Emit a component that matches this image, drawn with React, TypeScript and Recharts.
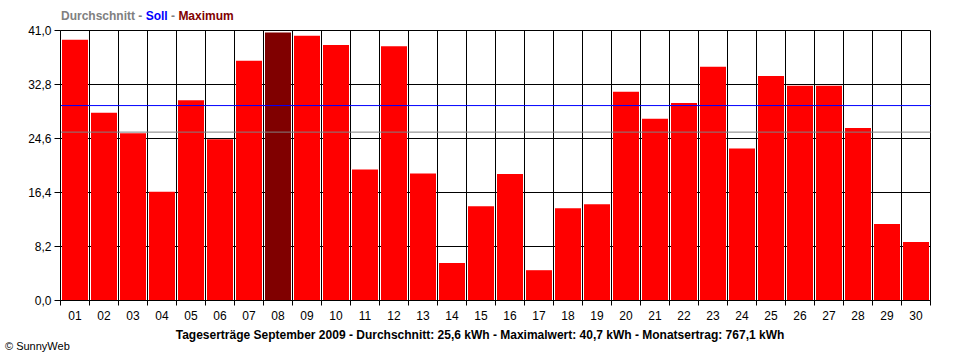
import React from "react";
import {
  Bar,
  BarChart,
  CartesianGrid,
  Cell,
  ReferenceLine,
  XAxis,
  YAxis,
} from "recharts";

const DAYS = [
  "01", "02", "03", "04", "05", "06", "07", "08", "09", "10",
  "11", "12", "13", "14", "15", "16", "17", "18", "19", "20",
  "21", "22", "23", "24", "25", "26", "27", "28", "29", "30",
];

const YIELDS = [
  39.6, 28.5, 25.4, 16.5, 30.4, 24.5, 36.4, 40.7, 40.2, 38.8,
  19.9, 38.6, 19.3, 5.7, 14.3, 19.2, 4.6, 14.0, 14.6, 31.7,
  27.6, 30.0, 35.5, 23.1, 34.1, 32.6, 32.6, 26.2, 11.6, 8.9,
];

const Y_TICKS = [0, 8.2, 16.4, 24.6, 32.8, 41];

const AVERAGE = 25.57;
const TARGET = 29.6;
const MAX_INDEX = 7;

const FONT = "'Liberation Sans', Arial, sans-serif";

const data = DAYS.map((day, i) => ({ day, kwh: YIELDS[i] }));

const fmt = (v: number) => v.toFixed(1).replace(".", ",");

// tick mark on the left boundary of each day (plus the last right edge), label centred
const DayTick = (props: any) => {
  const { x, y, payload, index } = props;
  const half = payload.offset || 0;
  const last = index === DAYS.length - 1;
  return (
    <g>
      <line x1={x - half} x2={x - half} y1={y - 5} y2={y} stroke="#000" />
      {last && <line x1={x + half} x2={x + half} y1={y - 5} y2={y} stroke="#000" />}
      <text x={x} y={y} dy={14} textAnchor="middle" fill="#000" fontSize={12} fontFamily={FONT}>
        {payload.value}
      </text>
    </g>
  );
};

// vertical grid at the day boundaries instead of the band centres
const boundaryLines = ({ offset }: any) =>
  Array.from({ length: DAYS.length + 1 }, (_, i) => offset.left + (offset.width * i) / DAYS.length);

export default function App() {
  return (
    <div
      style={{
        position: "absolute",
        left: 0,
        top: 0,
        width: 960,
        height: 360,
        background: "#fff",
        fontFamily: FONT,
      }}
    >
      <div
        style={{
          position: "absolute",
          left: 61,
          top: 9,
          fontSize: 12,
          fontWeight: "bold",
          color: "#808080",
          whiteSpace: "nowrap",
        }}
      >
        Durchschnitt - <span style={{ color: "#0000ff" }}>Soll</span> -{" "}
        <span style={{ color: "#800000" }}>Maximum</span>
      </div>

      <BarChart
        width={960}
        height={360}
        data={data}
        margin={{ top: 30.5, right: 29.5, left: 0, bottom: 29.5 }}
        barCategoryGap={1.5}
      >
        <CartesianGrid
          stroke="#000"
          strokeWidth={1}
          verticalCoordinatesGenerator={boundaryLines}
        />
        <XAxis
          dataKey="day"
          interval={0}
          stroke="#000"
          tickLine={false}
          tickSize={5}
          tickMargin={0}
          height={30}
          tick={<DayTick />}
        />
        <YAxis
          domain={[0, 41]}
          ticks={Y_TICKS}
          interval={0}
          width={60.5}
          tickSize={6}
          tickMargin={3}
          stroke="#000"
          tickFormatter={fmt}
          tick={{ fill: "#000", fontSize: 12, fontFamily: FONT }}
        />
        <Bar dataKey="kwh" isAnimationActive={false}>
          {data.map((d, i) => (
            <Cell key={d.day} fill={i === MAX_INDEX ? "#800000" : "#ff0000"} />
          ))}
        </Bar>
        <ReferenceLine y={AVERAGE} stroke="#808080" strokeWidth={1} />
        <ReferenceLine y={TARGET} stroke="#0000ff" strokeWidth={1} />
      </BarChart>

      <div
        style={{
          position: "absolute",
          left: 0,
          width: 960,
          top: 328,
          textAlign: "center",
          fontSize: 12,
          fontWeight: "bold",
          color: "#000",
          whiteSpace: "nowrap",
        }}
      >
        Tageserträge September 2009 - Durchschnitt: 25,6 kWh - Maximalwert: 40,7
        kWh - Monatsertrag: 767,1 kWh
      </div>
      <div
        style={{
          position: "absolute",
          left: 5,
          top: 340,
          fontSize: 11,
          color: "#000",
          whiteSpace: "nowrap",
        }}
      >
        © SunnyWeb
      </div>
    </div>
  );
}
